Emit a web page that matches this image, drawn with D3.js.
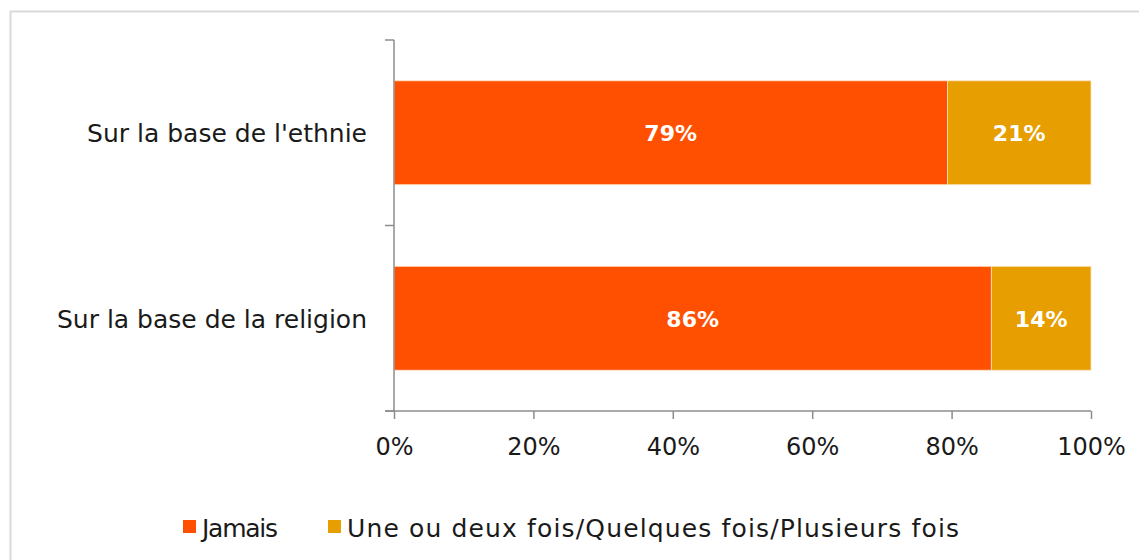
<!DOCTYPE html>
<html><head><meta charset="utf-8">
<script src="https://cdn.jsdelivr.net/npm/d3@7"></script>
<style>body{margin:0;background:#fff}svg{display:block}text{font-family:"DejaVu Sans",sans-serif}</style>
</head><body>
<svg id="c" width="1139" height="560"></svg>
<script>
const categories = ["Sur la base de l'ethnie", "Sur la base de la religion"];
const seriesNames = ["Jamais", "Une ou deux fois/Quelques fois/Plusieurs fois"];
const jamais = [79.4, 85.7];
const plusieurs = [20.6, 14.3];
const labelsJamais = ["79%", "86%"];
const labelsPlusieurs = ["21%", "14%"];
const tickValues = [0, 20, 40, 60, 80, 100];
const colors = ["#FF4F00", "#E69E00"];

const svg = d3.select("#c");
svg.append("rect").attr("x", 10.5).attr("y", 11.5).attr("width", 1140).attr("height", 560)
  .attr("fill", "#fff").attr("stroke", "#d9d9d9").attr("stroke-width", 2);

const x = d3.scaleLinear().domain([0, 100]).range([394, 1091]);
const y = d3.scaleBand().domain(categories).range([40, 411]).paddingInner(0.44).paddingOuter(0.22);

const stackData = categories.map((c, i) => ({cat: c, s0: jamais[i], s1: plusieurs[i]}));
const stack = d3.stack().keys(["s0", "s1"])(stackData);
const lbls = [labelsJamais, labelsPlusieurs];

stack.forEach((layer, li) => {
  const g = svg.append("g");
  g.selectAll("rect").data(layer).enter().append("rect")
    .attr("x", d => x(d[0])).attr("y", d => y(d.data.cat))
    .attr("width", d => x(d[1]) - x(d[0])).attr("height", y.bandwidth())
    .attr("fill", colors[li]).attr("stroke", "#fbe3c0").attr("stroke-width", 0.8);
  g.selectAll("text").data(layer).enter().append("text")
    .attr("x", d => (x(d[0]) + x(d[1])) / 2).attr("y", d => y(d.data.cat) + y.bandwidth() / 2)
    .attr("text-anchor", "middle").attr("dy", "0.38em")
    .attr("fill", "#fff").attr("font-weight", "bold").attr("font-size", 22)
    .text((d, i) => lbls[li][i]);
});

// x axis
const xa = svg.append("g").attr("transform", "translate(0,411)")
  .call(d3.axisBottom(x).tickValues(tickValues).tickFormat(d => d + "%").tickSize(8).tickSizeOuter(0));
xa.select(".domain").attr("stroke", "#8c8c8c").attr("stroke-width", 1.5).attr("d", "M385,0H1091");
xa.selectAll(".tick line").attr("stroke", "#8c8c8c").attr("stroke-width", 1.5);
xa.selectAll(".tick text").attr("font-size", 24).attr("fill", "#1a1a1a").attr("y", 44).attr("dy", null);

// y axis
const ya = svg.append("g").attr("transform", "translate(394,0)")
  .call(d3.axisLeft(y).tickSize(0).tickPadding(27));
ya.select(".domain").attr("stroke", "#8c8c8c").attr("stroke-width", 1.5).attr("d", "M0,40V411");
ya.selectAll(".tick text").attr("font-size", 25).attr("fill", "#1a1a1a").attr("dy", "0.37em");
// separator ticks between categories
const sepY = [40, (y(categories[0]) + y.bandwidth() + y(categories[1])) / 2, 411];
svg.append("g").selectAll("line").data(sepY).enter().append("line")
  .attr("x1", 385).attr("x2", 394).attr("y1", d => d).attr("y2", d => d)
  .attr("stroke", "#8c8c8c").attr("stroke-width", 1.5);

// legend
const leg = svg.append("g");
const legX = [183, 328];
const legW = [76, 612];
seriesNames.forEach((n, i) => {
  leg.append("rect").attr("x", legX[i]).attr("y", 520).attr("width", 13).attr("height", 13).attr("fill", colors[i]);
  leg.append("text").attr("x", legX[i] + 19).attr("y", 527).attr("dy", "0.38em")
    .attr("font-size", 25).attr("fill", "#1a1a1a")
    .attr("textLength", legW[i]).attr("lengthAdjust", "spacing").text(n);
});
</script>
</body></html>
